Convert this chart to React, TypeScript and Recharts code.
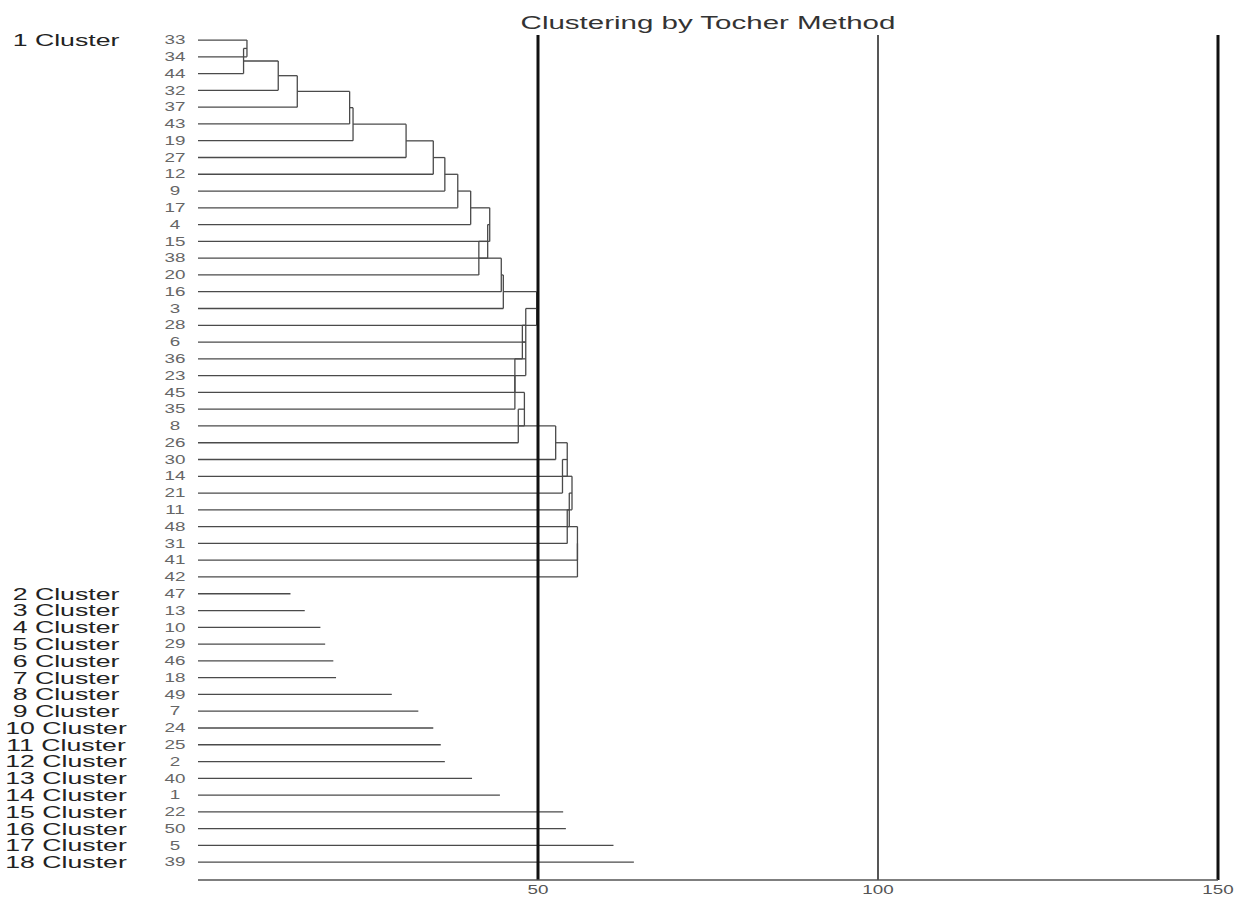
import React from "react";
import {
  ComposedChart,
  Line,
  XAxis,
  YAxis,
  ReferenceLine,
} from "recharts";

// --- Cluster 1: leaves in plot order and the distance at which each one joins ---
const clusterOneLeaves = [
  "33", "34", "44", "32", "37", "43", "19", "27", "12", "9", "17", "4", "15",
  "38", "20", "16", "3", "28", "6", "36", "23", "45", "35", "8", "26", "30",
  "14", "21", "11", "48", "31", "41", "42",
];
const clusterOneJoin = [
  null, 7.2, 6.7, 11.8, 14.6, 22.3, 22.8, 30.6, 34.6, 36.3, 38.2, 40.1, 42.9,
  42.6, 41.3, 44.6, 44.9, 49.8, 48.2, 47.7, 48.2, 46.6, 46.6, 48.0, 47.1, 52.6,
  54.3, 53.6, 55.0, 54.6, 54.3, 55.8, 55.8,
];

// --- Clusters 2..18: one leaf each ---
const singleLeaves = [
  "47", "13", "10", "29", "46", "18", "49", "7", "24", "25", "2", "40", "1",
  "22", "50", "5", "39",
];
const singleValues = [
  13.6, 15.7, 18.0, 18.7, 19.9, 20.3, 28.5, 32.4, 34.6, 35.7, 36.3, 40.3, 44.4,
  53.7, 54.1, 61.1, 64.1,
];

const xTicks = [50, 100, 150];
const guideLines = [
  { x: 50, color: "#111", width: 3 },
  { x: 100, color: "#444", width: 1.8 },
  { x: 150, color: "#111", width: 3 },
];

const allLeaves = [...clusterOneLeaves, ...singleLeaves];
const rowTicks = allLeaves.map((_, i) => i);

// first row of each cluster -> cluster number
const clusterStart: Record<number, number> = { 0: 1 };
singleLeaves.forEach((_, i) => {
  clusterStart[clusterOneLeaves.length + i] = i + 2;
});

type Pt = { x: number; y: number };

// ladder dendrogram: each new leaf joins the running node at its own height
const buildSegments = (): Pt[][] => {
  const segs: Pt[][] = [];
  const seg = (x1: number, y1: number, x2: number, y2: number) =>
    segs.push([
      { x: x1, y: y1 },
      { x: x2, y: y2 },
    ]);
  let node = { x: 0, y: 0 };
  clusterOneLeaves.forEach((_, i) => {
    if (i === 0) return;
    const h = clusterOneJoin[i] as number;
    if (i === 1) {
      seg(0, 0, h, 0);
      seg(0, 1, h, 1);
      seg(h, 0, h, 1);
      node = { x: h, y: 0.5 };
      return;
    }
    seg(0, i, h, i);
    seg(node.x, node.y, h, node.y);
    seg(h, node.y, h, i);
    node = { x: h, y: (node.y + i) / 2 };
  });
  singleValues.forEach((v, i) => {
    const row = clusterOneLeaves.length + i;
    seg(0, row, v, row);
  });
  return segs;
};

const STRETCH = 1.57;

const RowTick = (props: any) => {
  const { y, payload } = props;
  const i = payload.value;
  const cl = clusterStart[i];
  return (
    <g>
      <text
        transform={`translate(175,${y}) scale(${STRETCH},1)`}
        textAnchor="middle"
        dy="0.35em"
        fontSize={12}
        fill="#666"
      >
        {allLeaves[i]}
      </text>
      {cl !== undefined && (
        <text
          transform={`translate(66,${y}) scale(${STRETCH},1)`}
          textAnchor="middle"
          dy="0.35em"
          fontSize={17}
          fill="#222"
        >
          {`${cl} Cluster`}
        </text>
      )}
    </g>
  );
};

const XTick = (props: any) => {
  const { x, payload } = props;
  return (
    <text
      transform={`translate(${x},890) scale(${STRETCH},1)`}
      textAnchor="middle"
      dy="0.35em"
      fontSize={12}
      fill="#555"
    >
      {payload.value}
    </text>
  );
};

export default function App() {
  const segments = buildSegments();
  return (
    <div
      style={{
        position: "fixed",
        left: 0,
        top: 0,
        width: 1239,
        height: 900,
        background: "#fff",
        fontFamily: "'Liberation Sans', Arial, sans-serif",
      }}
    >
      <div
        style={{
          position: "absolute",
          left: 508,
          width: 400,
          top: 13,
          textAlign: "center",
          fontSize: 18.8,
          lineHeight: "20px",
          color: "#333",
          transform: `scaleX(${STRETCH})`,
        }}
      >
        Clustering by Tocher Method
      </div>
      <ComposedChart
        width={1239}
        height={900}
        margin={{ top: 35, right: 21, left: 0, bottom: 0 }}
      >
        <XAxis
          type="number"
          dataKey="x"
          domain={[0, 150]}
          ticks={xTicks}
          allowDataOverflow
          height={20}
          tickLine={false}
          axisLine={{ stroke: "#555", strokeWidth: 1.5 }}
          tick={<XTick />}
        />
        <YAxis
          type="number"
          dataKey="y"
          domain={[-0.3, 50.06]}
          reversed
          allowDataOverflow
          ticks={rowTicks}
          interval={0}
          width={198}
          axisLine={false}
          tickLine={false}
          tick={<RowTick />}
        />
        {segments.map((s, i) => (
          <Line
            key={`s${i}`}
            data={s}
            dataKey="y"
            type="linear"
            stroke="#4a4a4a"
            strokeWidth={1.3}
            dot={false}
            activeDot={false}
            isAnimationActive={false}
          />
        ))}
        {guideLines.map((g) => (
          <ReferenceLine
            key={`g${g.x}`}
            x={g.x}
            stroke={g.color}
            strokeWidth={g.width}
          />
        ))}
      </ComposedChart>
    </div>
  );
}
